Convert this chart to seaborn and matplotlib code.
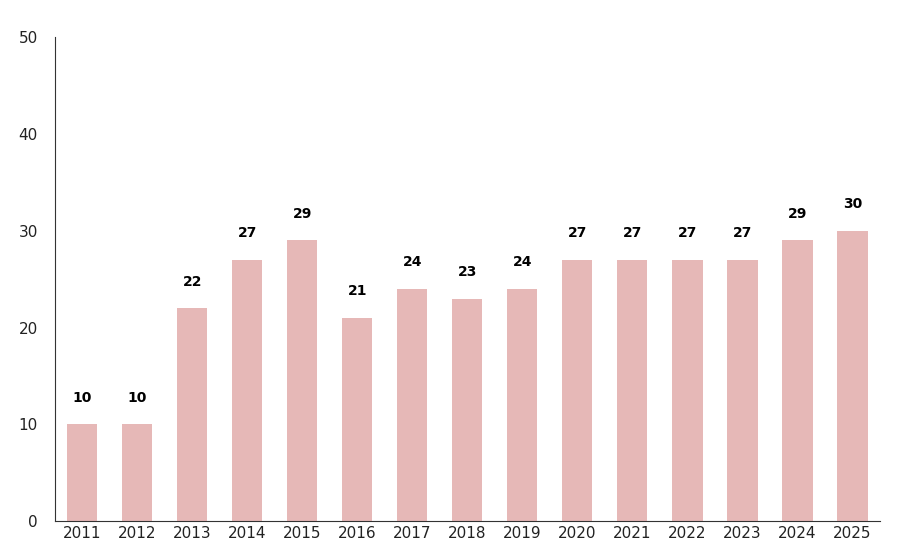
import matplotlib
matplotlib.use("Agg")
import matplotlib.pyplot as plt
import seaborn as sns
import pandas as pd

years = ["2011", "2012", "2013", "2014", "2015", "2016", "2017", "2018",
         "2019", "2020", "2021", "2022", "2023", "2024", "2025"]
values = [10, 10, 22, 27, 29, 21, 24, 23, 24, 27, 27, 27, 27, 29, 30]

df = pd.DataFrame({"year": years, "value": values})

fig = plt.figure(figsize=(9.1, 5.55), dpi=100)
ax = fig.add_axes([0.06, 0.061, 0.907, 0.872])
sns.barplot(data=df, x="year", y="value", color="#E6B8B7", saturation=1,
            width=0.55, ax=ax)

for i, v in enumerate(values):
    ax.annotate(str(v), (i, v), xytext=(0, 14), textcoords="offset points",
                ha="center", va="bottom", fontsize=10, fontweight="bold")

ax.set_ylim(0, 50)
ax.set_yticks(range(0, 51, 10))
ax.set_xlabel("")
ax.set_ylabel("")
for s in ["top", "right"]:
    ax.spines[s].set_visible(False)
ax.spines["left"].set_color("#333333")
ax.spines["bottom"].set_color("#333333")
ax.tick_params(axis="both", length=0, labelsize=11, colors="#222222")
ax.tick_params(axis="y", pad=12)

fig.savefig("out.png", dpi=100)
